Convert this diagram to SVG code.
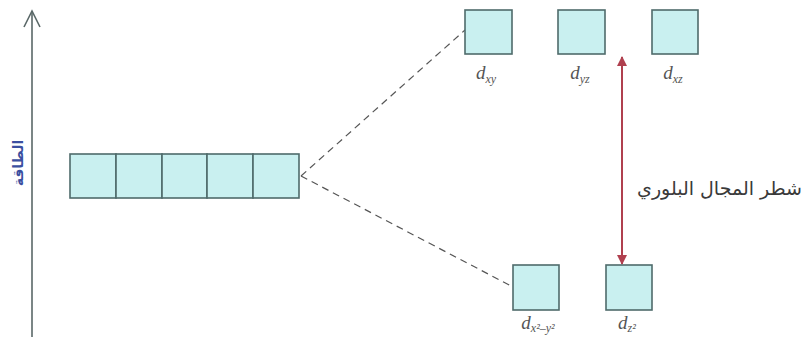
<svg xmlns="http://www.w3.org/2000/svg" width="804" height="337" viewBox="0 0 804 337">
<defs>
<style>
.box{fill:#c9f0f0;stroke:#4f6b6b;stroke-width:1.6}
.lbl{font-family:"Liberation Serif",serif;font-style:italic;font-size:19px;fill:#555;text-anchor:middle}
.sub{font-size:12px}
.dash{stroke:#555;stroke-width:1.2;stroke-dasharray:7,5;fill:none}
</style>
<marker id="rh" viewBox="0 0 10 10" refX="9" refY="5" markerWidth="5" markerHeight="5" orient="auto-start-reverse">
<path d="M0,0 L10,5 L0,10 z" fill="#b0404f"/>
</marker>
</defs>
<rect width="804" height="337" fill="#ffffff"/>
<g id="axis">
<line x1="32" y1="337" x2="32" y2="11" stroke="#5a6868" stroke-width="1.6"/>
<polyline points="24,27 32,11 40,27" fill="none" stroke="#5a6868" stroke-width="1.6"/>
<text transform="translate(23,163) rotate(-90)" font-family="DejaVu Sans,sans-serif" font-size="14" font-weight="bold" fill="#3b4fa0" text-anchor="middle">الطاقة</text>
</g>
<g id="connectors">
<line class="dash" x1="301" y1="176" x2="465" y2="30"/>
<line class="dash" x1="301" y1="176" x2="513" y2="287"/>
<line x1="622" y1="57" x2="622" y2="264" stroke="#b0404f" stroke-width="2" marker-start="url(#rh)" marker-end="url(#rh)"/>
</g>
<g id="degenerate">
<rect class="box" x="70" y="154" width="46" height="44"/>
<rect class="box" x="116" y="154" width="46" height="44"/>
<rect class="box" x="162" y="154" width="45" height="44"/>
<rect class="box" x="207" y="154" width="46" height="44"/>
<rect class="box" x="253" y="154" width="46" height="44"/>
</g>
<g id="dxy">
<rect class="box" x="465" y="10" width="47" height="44"/>
<text class="lbl" x="486" y="79">d<tspan class="sub" dy="4">xy</tspan></text>
</g>
<g id="dyz">
<rect class="box" x="558" y="10" width="47" height="44"/>
<text class="lbl" x="580" y="79">d<tspan class="sub" dy="4">yz</tspan></text>
</g>
<g id="dxz">
<rect class="box" x="652" y="10" width="46" height="44"/>
<text class="lbl" x="673" y="79">d<tspan class="sub" dy="4">xz</tspan></text>
</g>
<g id="dx2y2">
<rect class="box" x="513" y="265" width="46" height="45"/>
<text class="lbl" x="538" y="329">d<tspan class="sub" dy="3">x²–y²</tspan></text>
</g>
<g id="dz2">
<rect class="box" x="606" y="265" width="46" height="45"/>
<text class="lbl" x="627" y="329">d<tspan class="sub" dy="3">z²</tspan></text>
</g>
<g id="split-label">
<text x="802" y="195" font-family="DejaVu Sans,sans-serif" font-size="19" fill="#3a3a3a" text-anchor="end">شطر المجال البلوري</text>
</g>
</svg>
